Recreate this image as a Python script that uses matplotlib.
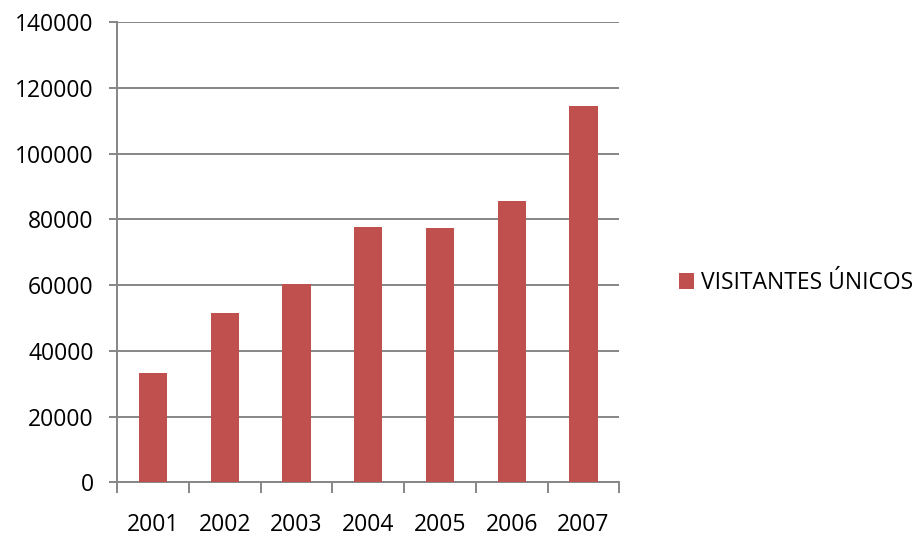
import matplotlib.pyplot as plt
from matplotlib.patches import Patch
import numpy as np

years = ['2001', '2002', '2003', '2004', '2005', '2006', '2007']
visitantes = [33200, 51500, 60400, 77600, 77400, 85700, 114500]
yticks = [0, 20000, 40000, 60000, 80000, 100000, 120000, 140000]

bar_color = '#C0504D'
grid_color = '#868686'

plt.rcParams['font.family'] = ['Open Sans', 'DejaVu Sans']

fig = plt.figure(figsize=(9.22, 5.4), dpi=100)
ax = fig.add_axes([117.3 / 922, 1 - 482.3 / 540, 502 / 922, 460 / 540])

x = np.arange(len(years))
ax.bar(x, visitantes, width=0.395, color=bar_color, zorder=3,
       label='VISITANTES ÚNICOS')

ax.set_xlim(-0.5, len(years) - 0.5)
ax.set_ylim(0, 140000)
ax.set_yticks(yticks)
ax.set_yticklabels([str(v) for v in yticks], fontsize=16.5)
ax.yaxis.grid(True, color=grid_color, linewidth=1.4, zorder=0)

# x tick marks sit between categories, labels centred under bars
ax.set_xticks(np.arange(-0.5, len(years), 1.0))
ax.set_xticklabels([])
ax.set_xticks(x, minor=True)
ax.set_xticklabels(years, minor=True, fontsize=16.5)
ax.tick_params(axis='x', which='minor', length=0, pad=22)
ax.tick_params(axis='x', which='major', length=8, width=1.4, color=grid_color,
               direction='out')
ax.tick_params(axis='y', length=6, width=1.4, color=grid_color, pad=11)

for side in ['top', 'right']:
    ax.spines[side].set_visible(False)
for side in ['left', 'bottom']:
    ax.spines[side].set_color(grid_color)
    ax.spines[side].set_linewidth(1.4)

handles = [Patch(facecolor=bar_color, label='VISITANTES ÚNICOS')]
fig.legend(handles=handles, loc='center left', bbox_to_anchor=(679 / 922, 1 - 283 / 540),
           frameon=False, fontsize=16.5, handlelength=0.65, handleheight=0.65,
           handletextpad=0.3, borderaxespad=0, borderpad=0)

fig.savefig('out.png', dpi=100)
